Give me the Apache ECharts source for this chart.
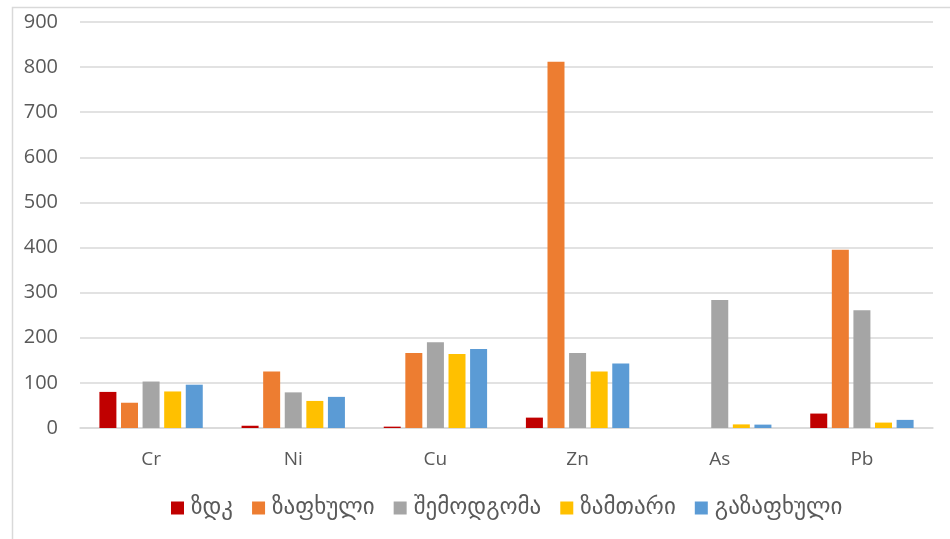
<!DOCTYPE html>
<html>
<head>
<meta charset="utf-8">
<script src="https://cdn.jsdelivr.net/npm/echarts@6/dist/echarts.min.js"></script>
<style>
  html, body { margin: 0; padding: 0; background: #fff; }
  #chart { width: 950px; height: 539px; }
</style>
</head>
<body>
<div id="chart"></div>
<script>
// Heavy metal concentrations by season
const categories = ['Cr', 'Ni', 'Cu', 'Zn', 'As', 'Pb'];
const seriesNames = ['ზდკ', 'ზაფხული', 'შემოდგომა', 'ზამთარი', 'გაზაფხული'];
const seriesColors = ['#C00000', '#ED7D31', '#A5A5A5', '#FFC000', '#5B9BD5'];

const zdk        = [80, 5, 3, 23, 0, 32];
const summer     = [56, 125, 166, 812, 0, 395];
const autumn     = [103, 79, 190, 166, 284, 261];
const winter     = [81, 60, 164, 125, 8, 12];
const spring     = [96, 69, 175, 143, 7.5, 18];

const yTicks = { min: 0, max: 900, interval: 100 };

const seriesData = [zdk, summer, autumn, winter, spring];

const chart = echarts.init(document.getElementById('chart'), null, { renderer: 'canvas' });

const labelFont = '"Open Sans", "DejaVu Sans", sans-serif';

chart.setOption({
  animation: false,
  backgroundColor: '#ffffff',
  graphic: [{
    type: 'rect',
    shape: { x: 12.5, y: 7.5, width: 960, height: 560 },
    style: { fill: 'none', stroke: '#d9d9d9', lineWidth: 1.5 },
    silent: true
  }],
  grid: { left: 80, right: 17, top: 22, bottom: 111, containLabel: false },
  legend: {
    data: seriesNames,
    top: 489,
    left: 166,
    itemWidth: 13,
    itemHeight: 13,
    itemGap: 19,
    icon: 'rect',
    textStyle: { fontFamily: '"DejaVu Sans", sans-serif', fontSize: 23, lineHeight: 28, color: '#595959', padding: [0, 0, 0, 2] }
  },
  xAxis: {
    type: 'category',
    data: categories,
    axisLine: { show: true, lineStyle: { color: '#d9d9d9', width: 1.5 } },
    axisTick: { show: false },
    axisLabel: { color: '#595959', fontSize: 19, fontFamily: labelFont, margin: 22 }
  },
  yAxis: {
    type: 'value',
    min: yTicks.min,
    max: yTicks.max,
    interval: yTicks.interval,
    axisLine: { show: false },
    axisTick: { show: false },
    splitLine: { lineStyle: { color: '#d9d9d9', width: 1.5 } },
    axisLabel: { color: '#595959', fontSize: 20, fontFamily: labelFont, margin: 22 }
  },
  series: seriesNames.map((name, i) => ({
    name: name,
    type: 'bar',
    data: seriesData[i],
    barWidth: 17,
    barGap: '27%',
    itemStyle: { color: seriesColors[i] }
  }))
});
</script>
</body>
</html>
